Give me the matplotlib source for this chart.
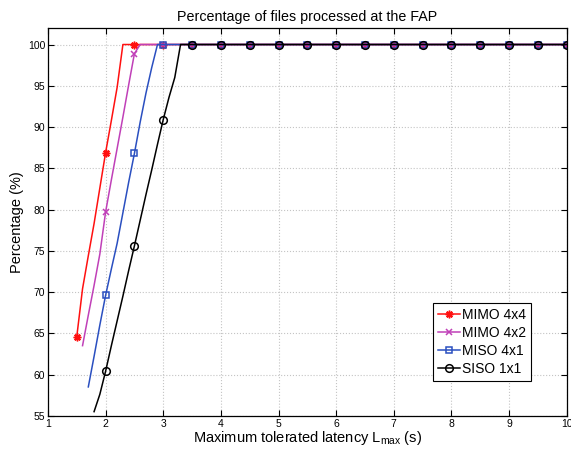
import matplotlib
matplotlib.use('Agg')
import matplotlib.pyplot as plt

plt.rcParams['font.family'] = ['Liberation Sans', 'DejaVu Sans']
plt.rcParams['mathtext.default'] = 'regular'

# data (rise part at 0.1 steps, then flat at 100)
flat_x = [3.5, 4.0, 4.5, 5.0, 5.5, 6.0, 6.5, 7.0, 7.5, 8.0, 8.5, 9.0, 9.5, 10.0]

mimo44_x = [1.5, 1.6, 1.7, 1.8, 1.9, 2.0, 2.1, 2.2, 2.3, 2.5, 3.0] + flat_x
mimo44_y = [64.6, 70.4, 74.4, 78.3, 82.6, 86.9, 90.8, 94.8, 100, 100, 100] + [100] * len(flat_x)

mimo42_x = [1.6, 1.7, 1.8, 1.9, 2.0, 2.1, 2.2, 2.3, 2.4, 2.5, 2.6, 3.0] + flat_x
mimo42_y = [63.5, 67.2, 70.8, 74.6, 79.7, 83.6, 87.4, 91.2, 95.1, 98.9, 100, 100] + [100] * len(flat_x)

miso41_x = [1.7, 1.8, 1.9, 2.0, 2.1, 2.2, 2.3, 2.4, 2.5, 2.6, 2.7, 2.8, 2.9, 3.0] + flat_x
miso41_y = [58.5, 62.2, 66.0, 69.6, 72.8, 75.9, 79.6, 83.3, 86.8, 90.6, 94.1, 97.2, 100, 100] + [100] * len(flat_x)

siso_x = [1.8, 1.9, 2.0, 2.1, 2.2, 2.3, 2.4, 2.5, 2.6, 2.7, 2.8, 2.9, 3.0, 3.1, 3.2, 3.3] + flat_x
siso_y = [55.5, 57.6, 60.4, 63.5, 66.5, 69.5, 72.6, 75.6, 78.7, 81.8, 84.8, 87.9, 90.9, 93.6, 96.0, 100] + [100] * len(flat_x)

labels = ['MIMO 4x4', 'MIMO 4x2', 'MISO 4x1', 'SISO 1x1']
colors = ['#ff1010', '#c040b8', '#2a4fc0', '#000000']
markers = [(8, 2, 0), 'x', 's', 'o']
msizes = [5.5, 4.5, 4.5, 5.5]
series = [(mimo44_x, mimo44_y), (mimo42_x, mimo42_y), (miso41_x, miso41_y), (siso_x, siso_y)]

fig = plt.figure(figsize=(5.71, 4.49), dpi=100)
ax = fig.add_axes([0.084, 0.074, 0.9085, 0.8636])

for (xs, ys), lab, c, m, ms in zip(series, labels, colors, markers, msizes):
    # markers only at the half-unit points
    mk = [i for i, v in enumerate(xs) if abs(v * 2 - round(v * 2)) < 1e-6]
    ax.plot(xs, ys, color=c, lw=1.1, marker=m, markevery=mk, markersize=ms,
            markerfacecolor='none', markeredgecolor=c,
            markeredgewidth=1.1, label=lab)

ax.set_xlim(1, 10)
ax.set_ylim(55, 102)
ax.set_xticks(range(1, 11))
ax.set_yticks(range(55, 101, 5))
ax.grid(True, linestyle=':', color='#c4c4c4', linewidth=0.8)
ax.tick_params(direction='in', top=True, right=True, labelsize=7.5, length=4, width=0.8, pad=2)
for s in ax.spines.values():
    s.set_linewidth(0.9)

ax.set_title('Percentage of files processed at the FAP', fontsize=10.3, pad=5)
ax.set_xlabel('Maximum tolerated latency L$_{max}$ (s)', fontsize=10.5, labelpad=0)
ax.set_ylabel('Percentage (%)', fontsize=10.5, labelpad=3)

leg = ax.legend(loc='lower right', bbox_to_anchor=(0.931, 0.09), borderaxespad=0,
                fontsize=10, fancybox=False, framealpha=1, edgecolor='black',
                handlelength=1.6, handletextpad=0.15, borderpad=0.35, labelspacing=0.3)
leg.get_frame().set_linewidth(0.8)

fig.savefig('out.png', dpi=100)
